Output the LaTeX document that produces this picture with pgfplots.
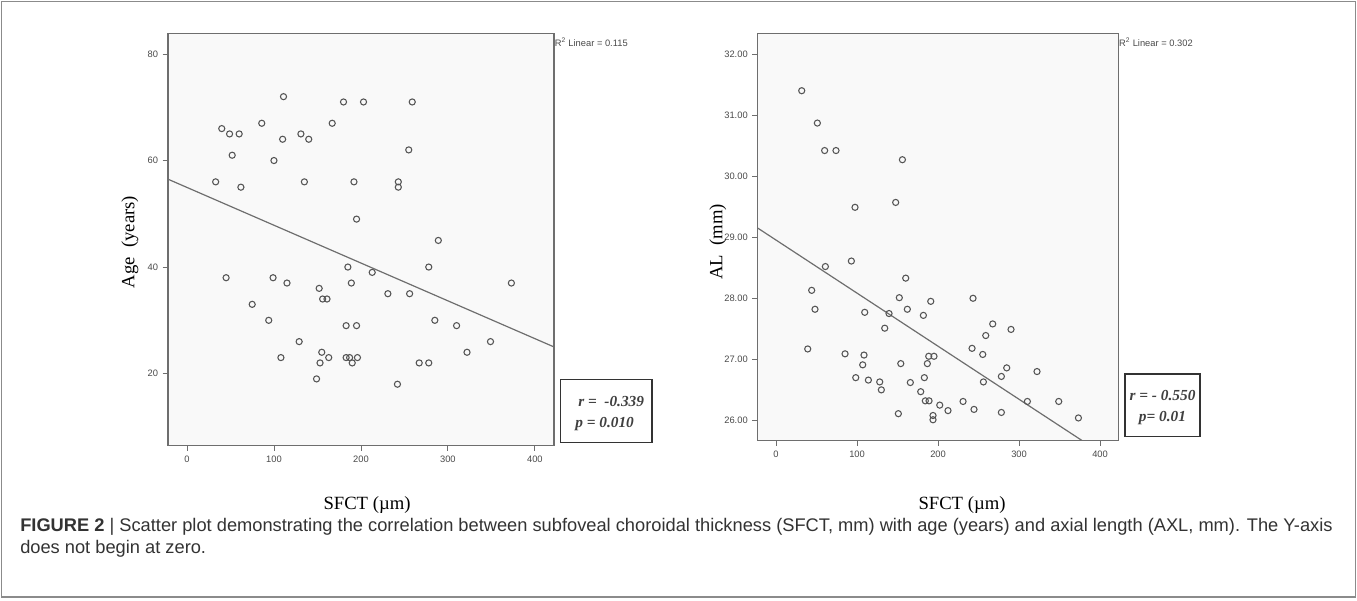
\documentclass[border=0pt]{standalone}
\usepackage{pgfplots}
\pgfplotsset{compat=1.18}
\usepackage{fontspec}
\setmainfont{Liberation Serif}
\newfontfamily\sansf{Liberation Sans}
\definecolor{bgc}{HTML}{F9F9F9}
\definecolor{axc}{HTML}{6E6E6E}
\definecolor{mkc}{HTML}{555555}
\definecolor{tkc}{HTML}{4A4A4A}
\definecolor{capc}{HTML}{333333}

\pgfplotstableread{
x y
33 56
40 66
49 65
60 65
52 61
62 55
86 67
100 60
111 72
110 64
131 65
140 64
135 56
167 67
180 71
203 71
192 56
195 49
243 56
243 55
255 62
259 71
45 38
75 33
94 30
99 38
115 37
108 23
129 26
152 36
156 34
161 34
155 24
153 22
163 23
149 19
185 40
189 37
183 29
195 29
183 23
187 23
196 23
190 22
213 39
231 35
256 35
242 18
267 22
278 22
278 40
285 30
289 45
373 37
310 29
349 26
322 24
}\agedata

\pgfplotstableread{
x y
31.7 31.40
51 30.87
60 30.42
74 30.42
156 30.27
97.5 29.49
147.7 29.57
60.9 28.52
93 28.61
44 28.13
48.1 27.82
39.1 27.17
109.5 27.77
139.5 27.75
134.2 27.51
160.1 28.33
152.2 28.01
162.1 27.82
191 27.95
181.9 27.72
243.2 28.00
267.5 27.58
258.9 27.39
290.1 27.49
242 27.18
255.2 27.08
85.2 27.09
108.6 27.07
107 26.91
154 26.93
188.5 27.05
195 27.05
186.8 26.93
98.4 26.70
114 26.66
128 26.63
130 26.50
165.8 26.62
183.1 26.70
178.6 26.47
184.3 26.32
188.9 26.32
202.1 26.25
212.3 26.16
193.8 26.08
193.8 26.01
151 26.11
230.9 26.31
244.4 26.18
256 26.63
278.2 26.72
284.8 26.86
278.2 26.13
322.2 26.80
310.3 26.31
349 26.31
373.3 26.04
}\aldata

\pgfplotsset{
  spssaxis/.style={
    scale only axis,
    anchor=south west,
    axis background/.style={fill=bgc},
    axis line style={draw=axc, line width=0.9pt},
    tick style={draw=axc, line width=0.6pt},
    major tick length=4pt,
    tick align=outside,
    tick pos=left,
    ticklabel style={font=\sansf\fontsize{7}{8}\selectfont, text=tkc},
    /pgf/number format/assume math mode=true,
    xtick={0,100,200,300,400},
    scaled ticks=false,
  },
  pts/.style={only marks, mark=o, mark size=2.3pt, mark options={draw=mkc, line width=0.8pt}},
  fit/.style={draw=axc, line width=0.9pt, no marks},
}

\begin{document}
\begin{tikzpicture}
\useasboundingbox (0,0) rectangle (1017.75pt,450pt);
\fill[white] (0,0) rectangle (1017.75pt,450pt);

\begin{axis}[spssaxis, at={(126pt,115.9pt)}, width=289.5pt, height=309.15pt,
  xmin=-21.8, xmax=422, ymin=6.5, ymax=83.9, ytick={20,40,60,80}]
  \addplot[pts] table[x=x,y=y] {\agedata};
  \addplot[fit] coordinates {(-21.8,56.5) (422,25.0)};
\end{axis}

\begin{axis}[spssaxis, at={(568.3pt,119.6pt)}, width=270.45pt, height=305.4pt,
  xmin=-22.6, xmax=422.6, ymin=25.67, ymax=32.34, ytick={26,27,28,29,30,31,32},
  yticklabel style={/pgf/number format/.cd, fixed, fixed zerofill, precision=2}]
  \addplot[pts] table[x=x,y=y] {\aldata};
  \addplot[fit] coordinates {(-22.6,29.15) (422.6,25.28)};
\end{axis}

\begin{scope}[x=0.75pt, y=-0.75pt, yshift=450pt]
  \draw[color=axc!80, line width=0.9pt] (1.5,1.5) rectangle (1355.5,597);
  % axis titles
  \node[rotate=90, font=\fontsize{14}{16}\selectfont] at (130,242) {Age\ \ (years)};
  \node[font=\fontsize{14}{16}\selectfont] at (367,505) {SFCT (µm)};
  \node[rotate=90, font=\fontsize{14}{16}\selectfont] at (718,242) {AL\ \ (mm)};
  \node[font=\fontsize{14}{16}\selectfont] at (962,505) {SFCT (µm)};
  % R^2 labels
  \node[anchor=west, inner sep=0pt, font=\sansf\fontsize{7}{8}\selectfont, text=tkc] at (554.5,42.5) {R\textsuperscript{2} Linear = 0.115};
  \node[anchor=west, inner sep=0pt, font=\sansf\fontsize{7}{8}\selectfont, text=tkc] at (1118.8,42.5) {R\textsuperscript{2} Linear = 0.302};
  % r/p boxes
  \draw[line width=1.1pt, draw=black!80] (560.7,379.3) rectangle (652,442.7);
  \node[anchor=west, inner sep=0pt, font=\fontsize{11.5}{13}\selectfont\bfseries\itshape, text=black!75] at (578,401.7) {r =\ \ -0.339};
  \node[anchor=west, inner sep=0pt, font=\fontsize{11.5}{13}\selectfont\bfseries\itshape, text=black!75] at (575,424) {p = 0.010};
  \draw[line width=1.1pt, draw=black!80] (1125,374) rectangle (1200,436.7);
  \node[inner sep=0pt, font=\fontsize{11.5}{13}\selectfont\bfseries\itshape, text=black!75] at (1162.5,396) {r = - 0.550};
  \node[inner sep=0pt, font=\fontsize{11.5}{13}\selectfont\bfseries\itshape, text=black!75] at (1162.5,418) {p= 0.01};
  % caption
  \node[anchor=west, inner sep=0pt, font=\sansf\fontsize{13.7}{15}\selectfont, text=capc] at (20,527) {\textbf{FIGURE 2} | Scatter plot demonstrating the correlation between subfoveal choroidal thickness (SFCT, mm) with age (years) and axial length (AXL, mm). The Y-axis};
  \node[anchor=west, inner sep=0pt, font=\sansf\fontsize{13.7}{15}\selectfont, text=capc] at (20,549) {does not begin at zero.};
\end{scope}
\end{tikzpicture}
\end{document}
